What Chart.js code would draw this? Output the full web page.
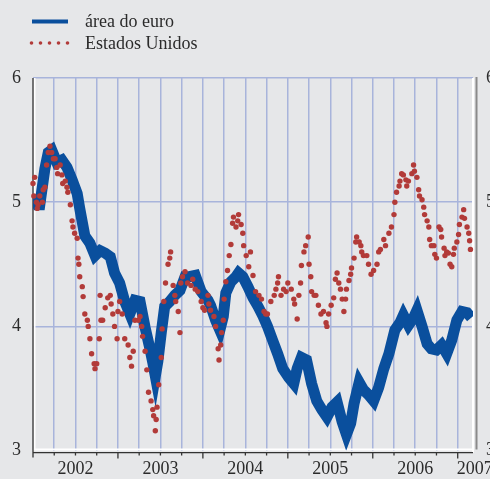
<!DOCTYPE html>
<html>
<head>
<meta charset="utf-8">
<script src="https://cdn.jsdelivr.net/npm/chart.js@4.4.0/dist/chart.umd.min.js"></script>
<style>
  html, body { margin: 0; padding: 0; background: #e6e7e9; }
</style>
</head>
<body>
<canvas id="c" width="490" height="479"></canvas>
<script>
// 10-year bond yields (%), x axis in decimal years
const seriesNames = ['área do euro', 'Estados Unidos'];

const euroDates = [
  2002.00, 2002.05, 2002.08, 2002.14, 2002.18, 2002.22, 2002.28, 2002.34, 2002.40, 2002.46,
  2002.52, 2002.55, 2002.61, 2002.67, 2002.73, 2002.79, 2002.85, 2002.91, 2002.96, 2003.02,
  2003.08, 2003.14, 2003.20, 2003.26, 2003.32, 2003.38, 2003.41, 2003.44, 2003.47, 2003.51,
  2003.55, 2003.61, 2003.67, 2003.73, 2003.79, 2003.84, 2003.91, 2003.98, 2004.06, 2004.09,
  2004.15, 2004.20, 2004.24, 2004.27, 2004.33, 2004.39, 2004.42, 2004.47, 2004.53, 2004.59,
  2004.65, 2004.71, 2004.76, 2004.82, 2004.88, 2004.94, 2005.01, 2005.07, 2005.11, 2005.16,
  2005.22, 2005.28, 2005.34, 2005.40, 2005.46, 2005.52, 2005.58, 2005.64, 2005.69, 2005.74,
  2005.78, 2005.84, 2005.89, 2005.95, 2006.01, 2006.07, 2006.13, 2006.19, 2006.26, 2006.32,
  2006.36, 2006.42, 2006.48, 2006.52, 2006.58, 2006.64, 2006.69, 2006.75, 2006.81, 2006.87,
  2006.93, 2006.99, 2007.05, 2007.11, 2007.16
];
const euroYields = [
  5.04, 4.98, 4.98, 5.27, 5.40, 5.42, 5.32, 5.34, 5.28, 5.18,
  5.07, 4.95, 4.73, 4.67, 4.57, 4.61, 4.59, 4.56, 4.43, 4.35,
  4.20, 4.10, 4.21, 4.20, 3.99, 3.81, 3.71, 3.60, 3.72, 3.95,
  4.16, 4.20, 4.25, 4.29, 4.40, 4.40, 4.41, 4.28, 4.21, 4.17,
  4.05, 3.97, 4.08, 4.27, 4.36, 4.40, 4.43, 4.40, 4.32, 4.23,
  4.16, 4.08, 4.00, 3.89, 3.78, 3.66, 3.59, 3.54, 3.66, 3.75,
  3.73, 3.54, 3.40, 3.33, 3.27, 3.35, 3.39, 3.23, 3.13, 3.22,
  3.38, 3.55, 3.49, 3.45, 3.40, 3.51, 3.66, 3.78, 3.97, 4.03,
  4.09, 4.01, 4.07, 4.13, 4.00, 3.86, 3.82, 3.81, 3.85, 3.78,
  3.89, 4.05, 4.12, 4.11, 4.07
];

const usDates = [
  2002.00, 2002.01, 2002.02, 2002.04, 2002.05, 2002.06, 2002.08, 2002.11, 2002.12, 2002.14,
  2002.16, 2002.18, 2002.20, 2002.22, 2002.24, 2002.26, 2002.28, 2002.29, 2002.32, 2002.34,
  2002.35, 2002.38, 2002.40, 2002.41, 2002.44, 2002.46, 2002.47, 2002.49, 2002.52, 2002.53,
  2002.54, 2002.55, 2002.58, 2002.59, 2002.61, 2002.64, 2002.65, 2002.67, 2002.69, 2002.72,
  2002.73, 2002.75, 2002.78, 2002.79, 2002.80, 2002.82, 2002.85, 2002.88, 2002.91, 2002.92,
  2002.94, 2002.96, 2002.99, 2003.00, 2003.02, 2003.05, 2003.08, 2003.12, 2003.14, 2003.16,
  2003.18, 2003.20, 2003.24, 2003.26, 2003.28, 2003.29, 2003.32, 2003.34, 2003.36, 2003.39,
  2003.41, 2003.42, 2003.44, 2003.45, 2003.46, 2003.48, 2003.51, 2003.52, 2003.54, 2003.56,
  2003.59, 2003.61, 2003.62, 2003.65, 2003.67, 2003.68, 2003.71, 2003.73, 2003.74, 2003.76,
  2003.79, 2003.82, 2003.86, 2003.88, 2003.91, 2003.94, 2003.98, 2004.00, 2004.02, 2004.06,
  2004.07, 2004.09, 2004.13, 2004.15, 2004.18, 2004.19, 2004.21, 2004.22, 2004.24, 2004.25,
  2004.27, 2004.29, 2004.31, 2004.33, 2004.35, 2004.36, 2004.39, 2004.41, 2004.42, 2004.45,
  2004.47, 2004.48, 2004.51, 2004.54, 2004.56, 2004.59, 2004.62, 2004.66, 2004.69, 2004.72,
  2004.74, 2004.76, 2004.80, 2004.84, 2004.86, 2004.88, 2004.89, 2004.92, 2004.95, 2004.98,
  2005.00, 2005.04, 2005.07, 2005.08, 2005.11, 2005.13, 2005.15, 2005.16, 2005.19, 2005.21,
  2005.24, 2005.25, 2005.27, 2005.28, 2005.31, 2005.33, 2005.36, 2005.39, 2005.42, 2005.45,
  2005.46, 2005.48, 2005.51, 2005.54, 2005.56, 2005.58, 2005.60, 2005.62, 2005.64, 2005.66,
  2005.68, 2005.69, 2005.72, 2005.74, 2005.75, 2005.78, 2005.80, 2005.81, 2005.84, 2005.86,
  2005.87, 2005.89, 2005.93, 2005.95, 2005.98, 2006.01, 2006.05, 2006.07, 2006.09, 2006.13,
  2006.15, 2006.19, 2006.22, 2006.25, 2006.26, 2006.28, 2006.31, 2006.32, 2006.34, 2006.36,
  2006.39, 2006.40, 2006.42, 2006.46, 2006.48, 2006.49, 2006.52, 2006.54, 2006.55, 2006.58,
  2006.60, 2006.61, 2006.64, 2006.66, 2006.67, 2006.69, 2006.72, 2006.73, 2006.75, 2006.78,
  2006.80, 2006.81, 2006.84, 2006.85, 2006.87, 2006.89, 2006.91, 2006.93, 2006.95, 2006.96,
  2006.99, 2007.01, 2007.02, 2007.05, 2007.07, 2007.08, 2007.11, 2007.13, 2007.14, 2007.15
];
const usYields = [
  5.15, 5.05, 5.20, 5.00, 4.95, 4.98, 5.05, 5.00, 5.10, 5.12,
  5.30, 5.40, 5.45, 5.40, 5.35, 5.35, 5.28, 5.23, 5.30, 5.22,
  5.15, 5.17, 5.12, 5.08, 4.98, 4.85, 4.80, 4.75, 4.71, 4.55,
  4.50, 4.40, 4.32, 4.24, 4.10, 4.05, 4.00, 3.90, 3.78, 3.70,
  3.66, 3.70, 3.90, 4.25, 4.05, 4.05, 4.15, 4.23, 4.25, 4.18,
  4.10, 4.00, 3.90, 4.12, 4.20, 4.10, 3.90, 3.85, 3.75, 3.68,
  3.80, 4.05, 4.05, 4.08, 4.00, 3.92, 3.80, 3.65, 3.47, 3.40,
  3.33, 3.28, 3.16, 3.25, 3.35, 3.53, 3.75, 3.98, 4.20, 4.35,
  4.50, 4.55, 4.60, 4.33, 4.25, 4.20, 4.12, 3.95, 4.35, 4.40,
  4.44, 4.35, 4.33, 4.38, 4.30, 4.28, 4.20, 4.15, 4.13, 4.25,
  4.18, 4.13, 4.08, 4.00, 3.82, 3.73, 3.85, 3.95, 4.05, 4.22,
  4.36, 4.45, 4.57, 4.66, 4.83, 4.88, 4.80, 4.85, 4.90, 4.82,
  4.75, 4.65, 4.57, 4.48, 4.60, 4.41, 4.28, 4.25, 4.22, 4.12,
  4.10, 4.10, 4.20, 4.25, 4.30, 4.35, 4.40, 4.25, 4.30, 4.28,
  4.35, 4.30, 4.22, 4.18, 4.06, 4.25, 4.35, 4.49, 4.60, 4.65,
  4.72, 4.50, 4.40, 4.28, 4.25, 4.25, 4.17, 4.10, 4.12, 4.03,
  4.00, 4.10, 4.17, 4.23, 4.38, 4.43, 4.35, 4.30, 4.22, 4.12,
  4.22, 4.30, 4.37, 4.42, 4.47, 4.55, 4.68, 4.72, 4.68, 4.65,
  4.60, 4.57, 4.57, 4.50, 4.42, 4.45, 4.50, 4.60, 4.62, 4.70,
  4.65, 4.75, 4.80, 4.90, 5.00, 5.08, 5.13, 5.17, 5.23, 5.22,
  5.18, 5.13, 5.17, 5.23, 5.30, 5.25, 5.20, 5.10, 5.05, 5.02,
  4.96, 4.90, 4.85, 4.80, 4.70, 4.65, 4.65, 4.58, 4.55, 4.80,
  4.78, 4.72, 4.63, 4.57, 4.60, 4.59, 4.50, 4.48, 4.58, 4.63,
  4.68, 4.74, 4.82, 4.88, 4.94, 4.87, 4.80, 4.75, 4.69, 4.62
];

const yearLabels = [2002, 2003, 2004, 2005, 2006, 2007];
const yMin = 3;
const yMax = 6;
const xMax = 2007.18;

const BG = '#e6e7e9';
const GRID = '#a8b4db';
const EURO_BLUE = '#0a4f9d';
const US_RED = '#b23b39';
const TEXT = '#2b2b2b';
const FONT = 'Liberation Serif, Times New Roman, serif';

// quarter positions for grid lines, with the year label sitting mid-year
const xTicks = [];
yearLabels.forEach(y => {
  if (y < 2007) xTicks.push(y, y + 0.25, y + 0.5, y + 0.75);
});
xTicks.push(2007, 2007.2);

const toPoints = (xs, ys) => xs.map((x, i) => ({ x: x, y: ys[i] }));

const backgroundPlugin = {
  id: 'background',
  beforeDraw(chart) {
    const ctx = chart.ctx;
    ctx.save();
    ctx.fillStyle = BG;
    ctx.fillRect(0, 0, chart.width, chart.height);
    ctx.restore();
  }
};

// axis frame: white/dark lines and the small tick marks under the x axis
const framePlugin = {
  id: 'frame',
  beforeDatasetsDraw(chart) {
    const { ctx, chartArea } = chart;
    const xs = chart.scales.x;
    const { left, right, top, bottom } = chartArea;
    ctx.save();
    ctx.lineCap = 'butt';

    ctx.strokeStyle = '#ffffff';
    ctx.lineWidth = 2;
    ctx.beginPath();
    ctx.moveTo(left, bottom - 1);
    ctx.lineTo(right + 1, bottom - 1);
    ctx.moveTo(left + 1.5, top);
    ctx.lineTo(left + 1.5, bottom);
    ctx.moveTo(right, top);
    ctx.lineTo(right, bottom + 2);
    ctx.stroke();

    ctx.strokeStyle = '#8a8a8a';
    ctx.lineWidth = 2;
    ctx.beginPath();
    ctx.moveTo(right + 3.5, top - 1);
    ctx.lineTo(right + 3.5, bottom - 1);
    ctx.stroke();

    ctx.strokeStyle = '#333333';
    ctx.lineWidth = 1.3;
    ctx.beginPath();
    ctx.moveTo(left, top);
    ctx.lineTo(left, bottom + 7);
    ctx.moveTo(left, bottom + 2);
    ctx.lineTo(right, bottom + 2);
    xTicks.forEach(v => {
      if (v <= 2002 || v > 2007.01) return;
      const px = xs.getPixelForValue(v);
      const isYear = Math.abs(v - Math.round(v)) < 0.001;
      ctx.moveTo(px, bottom + 2);
      ctx.lineTo(px, bottom + (isYear ? 8 : 5));
    });
    ctx.stroke();
    ctx.restore();
  }
};

// legend: line sample, dotted sample, labels on the left above the plot
const legendPlugin = {
  id: 'sideLegend',
  afterDraw(chart) {
    const ctx = chart.ctx;
    ctx.save();
    ctx.font = '18px ' + FONT;
    ctx.fillStyle = TEXT;
    ctx.textBaseline = 'middle';
    ctx.textAlign = 'left';

    ctx.strokeStyle = EURO_BLUE;
    ctx.lineWidth = 4;
    ctx.beginPath();
    ctx.moveTo(32, 21.5);
    ctx.lineTo(68, 21.5);
    ctx.stroke();
    ctx.fillText(chart.data.datasets[1].label, 85, 22);

    ctx.fillStyle = US_RED;
    for (let i = 0; i < 5; i++) {
      ctx.beginPath();
      ctx.arc(31.5 + i * 9, 43, 1.8, 0, Math.PI * 2);
      ctx.fill();
    }
    ctx.fillStyle = TEXT;
    ctx.fillText(chart.data.datasets[0].label, 85, 44);
    ctx.restore();
  }
};

new Chart(document.getElementById('c'), {
  type: 'scatter',
  data: {
    datasets: [
      {
        label: seriesNames[1],
        data: toPoints(usDates, usYields),
        showLine: false,
        pointRadius: 2.7,
        pointBackgroundColor: US_RED,
        pointBorderWidth: 0,
        clip: false,
        order: 0
      },
      {
        label: seriesNames[0],
        data: toPoints(euroDates, euroYields),
        showLine: true,
        borderColor: EURO_BLUE,
        borderWidth: 11,
        pointRadius: 0,
        tension: 0,
        borderJoinStyle: 'miter',
        order: 1
      }
    ]
  },
  options: {
    responsive: false,
    animation: false,
    events: [],
    layout: { padding: { top: 78, left: 0, right: 0, bottom: 0 } },
    plugins: {
      legend: { display: false },
      tooltip: { enabled: false }
    },
    scales: {
      x: {
        type: 'linear',
        min: 2002,
        max: xMax,
        afterBuildTicks(scale) {
          scale.ticks = xTicks.map(v => ({ value: v }));
        },
        afterFit(scale) {
          scale.height = 28.4;
          scale.paddingLeft = 0;
          scale.paddingRight = 0;
        },
        border: { display: false },
        grid: {
          drawTicks: false,
          lineWidth: 1.5,
          color(ctx) {
            const v = ctx.tick && ctx.tick.value;
            return (v > 2002.01 && v <= 2007.01) ? GRID : 'rgba(0,0,0,0)';
          }
        },
        ticks: {
          autoSkip: false,
          maxRotation: 0,
          padding: 8,
          color: TEXT,
          font: { family: FONT, size: 18 },
          callback(value) {
            if (Math.abs(value - 2007.2) < 0.001) return '2007';
            const frac = value - Math.floor(value);
            return Math.abs(frac - 0.5) < 0.001 ? String(Math.floor(value)) : '';
          }
        }
      },
      y: {
        position: 'left',
        min: yMin,
        max: yMax,
        afterFit(scale) {
          scale.width = 33;
          scale.paddingTop = 0;
          scale.paddingBottom = 0;
        },
        border: { display: false },
        grid: {
          drawTicks: false,
          lineWidth: 1.5,
          color(ctx) {
            const v = ctx.tick && ctx.tick.value;
            return v > yMin ? GRID : 'rgba(0,0,0,0)';
          }
        },
        ticks: {
          stepSize: 1,
          padding: 12,
          color: TEXT,
          font: { family: FONT, size: 18 }
        }
      },
      y2: {
        position: 'right',
        min: yMin,
        max: yMax,
        afterFit(scale) {
          scale.width = 17;
          scale.paddingTop = 0;
          scale.paddingBottom = 0;
        },
        border: { display: false },
        grid: { display: false, drawTicks: false },
        ticks: {
          stepSize: 1,
          padding: 13,
          color: TEXT,
          font: { family: FONT, size: 18 }
        }
      }
    }
  },
  plugins: [backgroundPlugin, framePlugin, legendPlugin]
});
</script>
</body>
</html>
